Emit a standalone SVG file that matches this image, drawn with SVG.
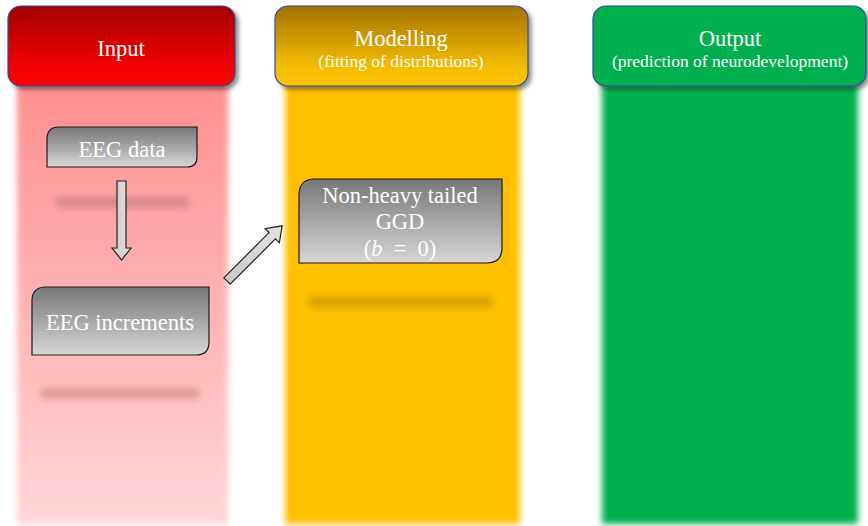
<svg xmlns="http://www.w3.org/2000/svg" width="868" height="526" viewBox="0 0 868 526">
  <defs>
    <linearGradient id="gInputHead" x1="0" y1="0" x2="0" y2="1">
      <stop offset="0" stop-color="#a30000"/>
      <stop offset="0.75" stop-color="#f20000"/>
      <stop offset="1" stop-color="#ff0000"/>
    </linearGradient>
    <linearGradient id="gModelHead" x1="0" y1="0" x2="0" y2="1">
      <stop offset="0" stop-color="#a37200"/>
      <stop offset="0.75" stop-color="#f5bb00"/>
      <stop offset="1" stop-color="#ffc300"/>
    </linearGradient>
    <linearGradient id="gInputCol" x1="0" y1="0" x2="0" y2="1">
      <stop offset="0" stop-color="#ff8f8f"/>
      <stop offset="1" stop-color="#ffd6d6"/>
    </linearGradient>
    <linearGradient id="gBox" x1="0" y1="0" x2="0" y2="1">
      <stop offset="0" stop-color="#777777"/>
      <stop offset="1" stop-color="#d6d6d6"/>
    </linearGradient>
    <linearGradient id="gArrow" x1="0" y1="0" x2="1" y2="0">
      <stop offset="0" stop-color="#c9c9c9"/>
      <stop offset="1" stop-color="#e3e3e3"/>
    </linearGradient>
    <filter id="soft" x="-10%" y="-10%" width="120%" height="120%">
      <feGaussianBlur stdDeviation="3"/>
    </filter>
    <filter id="haze" x="-20%" y="-200%" width="140%" height="500%">
      <feGaussianBlur stdDeviation="3.5"/>
    </filter>
    <filter id="shadow" x="-10%" y="-20%" width="125%" height="150%">
      <feGaussianBlur in="SourceAlpha" stdDeviation="2"/>
      <feOffset dx="3" dy="3" result="b"/>
      <feComponentTransfer><feFuncA type="linear" slope="0.45"/></feComponentTransfer>
      <feMerge><feMergeNode/><feMergeNode in="SourceGraphic"/></feMerge>
    </filter>
  </defs>
  <style>
    .head { stroke: #2f4f8f; stroke-width: 1.2; filter: url(#shadow); }
    .title { font-family: "Liberation Serif", "Times New Roman", serif; fill: #ffffff; text-anchor: middle; }
    .t1 { font-size: 22.5px; }
    .t2 { font-size: 17.5px; }
    .box { fill: url(#gBox); stroke: #1a1a1a; stroke-width: 1.2; }
    .btxt { font-family: "Liberation Serif", "Times New Roman", serif; fill: #ffffff; font-size: 22.5px; text-anchor: middle; }
    .arrow { fill: url(#gArrow); stroke: #222222; stroke-width: 1.2; stroke-linejoin: miter; }
  </style>

  <!-- column bodies -->
  <g id="columns">
    <rect x="17" y="84" width="211" height="440" fill="url(#gInputCol)" filter="url(#soft)"/>
    <rect x="285" y="84" width="235" height="440" fill="#ffc000" filter="url(#soft)"/>
    <rect x="602" y="84" width="256" height="440" fill="#00b050" filter="url(#soft)"/>
    <!-- faint placeholder bars -->
    <rect x="55" y="197" width="135" height="11" rx="5" fill="#d98a8a" filter="url(#haze)"/>
    <rect x="40" y="388" width="160" height="11" rx="5" fill="#dc9a9a" filter="url(#haze)"/>
    <rect x="308" y="296" width="185" height="12" rx="5" fill="#d9a200" filter="url(#haze)"/>
  </g>

  <!-- column headers -->
  <g id="head-input">
    <rect class="head" x="8" y="6" width="227" height="80" rx="13" fill="url(#gInputHead)"/>
    <text class="title t1" x="121" y="56">Input</text>
  </g>
  <g id="head-modelling">
    <rect class="head" x="275" y="6" width="253" height="80" rx="13" fill="url(#gModelHead)"/>
    <text class="title t1" x="401" y="46">Modelling</text>
    <text class="title t2" x="401" y="67">(fitting of distributions)</text>
  </g>
  <g id="head-output">
    <rect class="head" x="593" y="6" width="273" height="80" rx="13" fill="#00b050"/>
    <text class="title t1" x="730" y="46">Output</text>
    <text class="title t2" x="730" y="67">(prediction of neurodevelopment)</text>
  </g>

  <!-- process nodes -->
  <g id="node-eeg-data">
    <path class="box" d="M59,127 H197 V157 Q197,167 187,167 H47 V139 Q47,127 59,127 Z"/>
    <text class="btxt" x="122" y="157">EEG data</text>
  </g>
  <g id="node-eeg-increments">
    <path class="box" d="M46,287 H209 V342 Q209,355 196,355 H32 V301 Q32,287 46,287 Z"/>
    <text class="btxt" x="120" y="330">EEG increments</text>
  </g>
  <g id="node-ggd">
    <path class="box" d="M315,179 H502 V248 Q502,263 487,263 H299 V195 Q299,179 315,179 Z"/>
    <text class="btxt" x="400" y="203">Non-heavy tailed</text>
    <text class="btxt" x="400" y="229">GGD</text>
    <text class="btxt" x="400" y="256" xml:space="preserve">(<tspan font-style="italic">b</tspan>  =  0)</text>
  </g>

  <!-- block arrows -->
  <g id="connectors">
    <path class="arrow" d="M117,181 H126 V248 H131 L121.5,260 L112,248 H117 Z"/>
    <path class="arrow" transform="translate(227,281) rotate(-45)" d="M0,-4.5 H64 V-10 L78,0 L64,10 V4.5 H0 Z"/>
  </g>
</svg>
